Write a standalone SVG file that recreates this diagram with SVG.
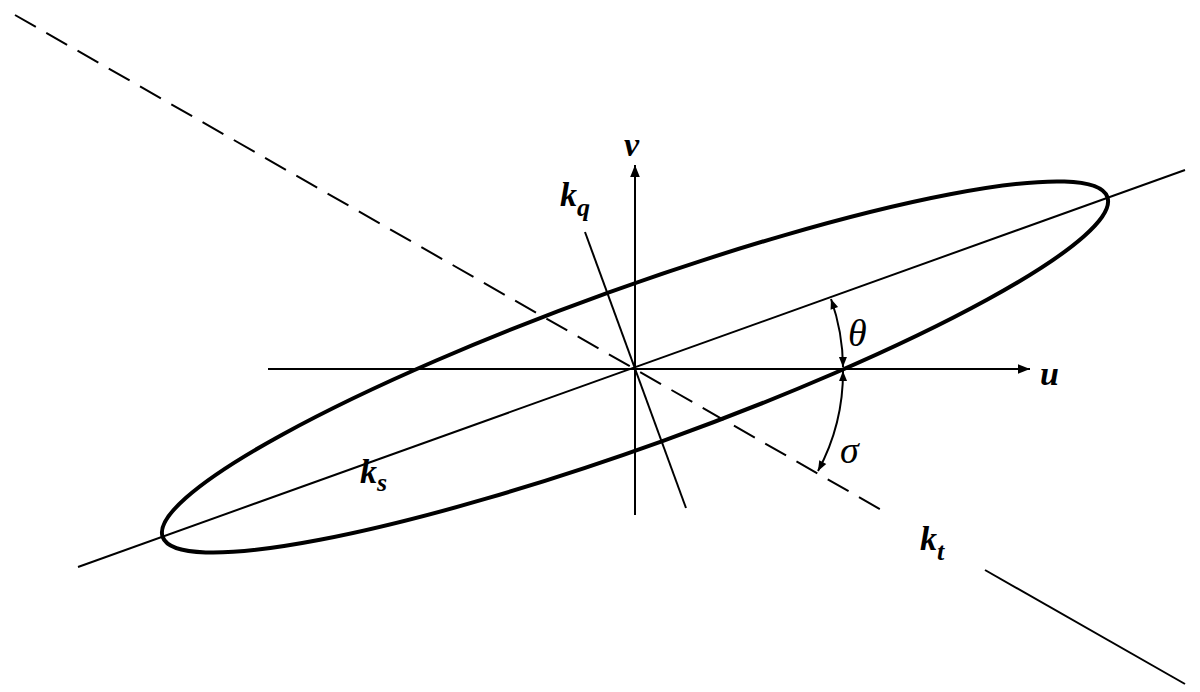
<svg xmlns="http://www.w3.org/2000/svg" width="1200" height="692" viewBox="0 0 1200 692">
<style>
.l{stroke:#000;stroke-width:2;fill:none}
.t{font-family:"Liberation Serif",serif;font-style:italic;font-weight:bold;font-size:34px}
.s{font-family:"Liberation Serif",serif;font-style:italic;font-size:26px}
.g{font-family:"Liberation Serif",serif;font-style:italic;font-size:38px}
</style>
<defs>
<marker id="a" viewBox="0 0 10 10" refX="10" refY="5" markerWidth="12" markerHeight="10" markerUnits="userSpaceOnUse" orient="auto-start-reverse"><path d="M0,1 L10,5 L0,9 Z" fill="#000"/></marker>
<marker id="b" viewBox="0 0 10 10" refX="10" refY="5" markerWidth="22" markerHeight="12" markerUnits="userSpaceOnUse" orient="auto-start-reverse"><path d="M0,1 L10,5 L0,9 Z" fill="#000"/></marker>
</defs>
<rect width="1200" height="692" fill="#fff"/>
<g id="connectors">
<line class="l" x1="78" y1="567" x2="1185" y2="170"/>
<line class="l" x1="15" y1="15" x2="885" y2="512" stroke-dasharray="24,12"/>
<line class="l" x1="985" y1="570" x2="1185" y2="684"/>
<line class="l" x1="585" y1="232" x2="686" y2="508"/>
<line class="l" x1="268" y1="369" x2="1030" y2="369" marker-end="url(#b)"/>
<line class="l" x1="635" y1="515" x2="635" y2="165" marker-end="url(#b)"/>
<path class="l" d="M831,299 A208,208 0 0 1 843,367" marker-start="url(#a)" marker-end="url(#a)"/>
<path class="l" d="M843,371 A208,208 0 0 1 818,471" marker-start="url(#a)" marker-end="url(#a)"/>
</g>
<g id="ellipse"><ellipse cx="635" cy="367" rx="502" ry="79" transform="rotate(-19.8 635 367)" fill="none" stroke="#000" stroke-width="4"/></g>
<g id="labels">
<text class="t" x="624" y="156">v</text>
<text class="t" x="560" y="206">k<tspan class="s" dy="10">q</tspan></text>
<text class="g" x="848" y="346">θ</text>
<text class="t" x="1040" y="385">u</text>
<text class="g" x="840" y="463">σ</text>
<text class="t" x="360" y="483">k<tspan class="s" dy="8">s</tspan></text>
<text class="t" x="920" y="550">k<tspan class="s" dy="10">t</tspan></text>
</g>
</svg>
